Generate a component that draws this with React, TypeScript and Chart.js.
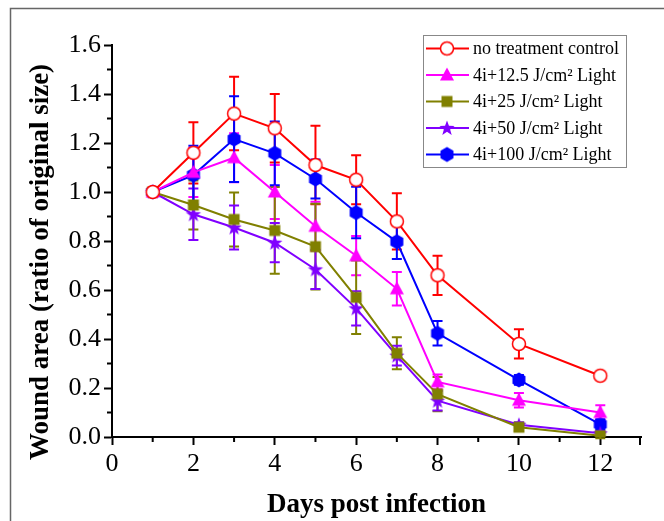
import React, { useEffect, useRef } from "react";
import { Chart, registerables } from "chart.js";

Chart.register(...registerables);

const days = [1, 2, 3, 4, 5, 6, 7, 8, 10, 12];
const control = [1.0, 1.16, 1.32, 1.26, 1.11, 1.05, 0.88, 0.66, 0.38, 0.25];
const controlErr = [0, 0.125, 0.15, 0.14, 0.16, 0.1, 0.115, 0.08, 0.06, 0.01];
const light12 = [1.0, 1.08, 1.14, 1.0, 0.86, 0.74, 0.605, 0.225, 0.15, 0.1];
const light12Err = [0, 0.1, 0.1, 0.11, 0.1, 0.08, 0.068, 0.03, 0.03, 0.03];
const light25 = [1.0, 0.947, 0.888, 0.843, 0.777, 0.57, 0.342, 0.175, 0.04, 0.005];
const light25Err = [0, 0.1, 0.11, 0.177, 0.175, 0.15, 0.065, 0.07, 0.015, 0.01];
const light50 = [1.0, 0.909, 0.855, 0.793, 0.684, 0.525, 0.332, 0.148, 0.05, 0.015];
const light50Err = [0, 0.105, 0.09, 0.08, 0.08, 0.07, 0.04, 0.04, 0.01, 0.01];
const light100 = [1.0, 1.069, 1.216, 1.158, 1.053, 0.916, 0.797, 0.423, 0.233, 0.052];
const light100Err = [0, 0.12, 0.175, 0.13, 0.08, 0.105, 0.07, 0.05, 0.02, 0.02];

const seriesLabels = [
  "no treatment control",
  "4i+12.5 J/cm² Light",
  "4i+25 J/cm² Light",
  "4i+50 J/cm² Light",
  "4i+100 J/cm² Light",
];
const xTickLabels = ["0", "2", "4", "6", "8", "10", "12"];
const yTickLabels = ["0.0", "0.2", "0.4", "0.6", "0.8", "1.0", "1.2", "1.4", "1.6"];
const xTitle = "Days post infection";
const yTitle = "Wound area (ratio of original size)";

const SERIF = '"Liberation Serif", "Times New Roman", serif';

function makeMarker(kind: string, color: string): HTMLCanvasElement {
  const c = document.createElement("canvas");
  c.width = 18;
  c.height = 18;
  const ctx = c.getContext("2d")!;
  const cx = 9, cy = 9;
  ctx.fillStyle = color;
  ctx.strokeStyle = color;
  ctx.beginPath();
  if (kind === "circle") {
    ctx.arc(cx, cy, 6.5, 0, Math.PI * 2);
    ctx.fillStyle = "#ffffff";
    ctx.fill();
    ctx.lineWidth = 1.5;
    ctx.stroke();
    return c;
  } else if (kind === "triangle") {
    ctx.moveTo(cx, cy - 7.5);
    ctx.lineTo(cx + 7, cy + 5.5);
    ctx.lineTo(cx - 7, cy + 5.5);
    ctx.closePath();
  } else if (kind === "square") {
    ctx.rect(cx - 5.5, cy - 5.5, 11, 11);
  } else if (kind === "star") {
    for (let i = 0; i < 10; i++) {
      const r = i % 2 === 0 ? 8 : 3.3;
      const a = -Math.PI / 2 + (i * Math.PI) / 5;
      const px = cx + r * Math.cos(a);
      const py = cy + 0.5 + r * Math.sin(a);
      if (i === 0) ctx.moveTo(px, py);
      else ctx.lineTo(px, py);
    }
    ctx.closePath();
  } else if (kind === "hexagon") {
    for (let i = 0; i < 6; i++) {
      const a = -Math.PI / 2 + (i * Math.PI) / 3;
      const px = cx + 7.5 * Math.cos(a);
      const py = cy + 7.5 * Math.sin(a);
      if (i === 0) ctx.moveTo(px, py);
      else ctx.lineTo(px, py);
    }
    ctx.closePath();
  }
  ctx.fill();
  return c;
}

export default function App() {
  const ref = useRef<HTMLCanvasElement | null>(null);

  useEffect(() => {
    const canvas = ref.current;
    if (!canvas) return;

    const seriesValues = [control, light12, light25, light50, light100];
    const seriesErrs = [controlErr, light12Err, light25Err, light50Err, light100Err];
    const colors = ["#ff0000", "#ff00ff", "#808000", "#8000ff", "#0000ff"];
    const kinds = ["circle", "triangle", "square", "star", "hexagon"];
    const markers = kinds.map((k, i) => makeMarker(k, colors[i]));

    const datasets = seriesValues.map((vals, i) => ({
      label: seriesLabels[i],
      data: days.map((d, j) => ({ x: d, y: vals[j] })),
      borderColor: colors[i],
      backgroundColor: colors[i],
      borderWidth: 2,
      pointStyle: markers[i] as any,
      pointRadius: 7,
      tension: 0,
      errors: seriesErrs[i],
    }));

    const bgPlugin = {
      id: "bg",
      beforeDraw(chart: any) {
        const ctx = chart.ctx;
        ctx.save();
        ctx.fillStyle = "#ffffff";
        ctx.fillRect(0, 0, chart.width, chart.height);
        ctx.strokeStyle = "#666666";
        ctx.lineWidth = 1.5;
        ctx.beginPath();
        ctx.moveTo(10.5, chart.height);
        ctx.lineTo(10.5, 8.5);
        ctx.lineTo(chart.width, 8.5);
        ctx.stroke();
        ctx.restore();
      },
    };

    const errorPlugin = {
      id: "errbars",
      beforeDatasetsDraw(chart: any) {
        const ctx = chart.ctx;
        const yScale = chart.scales.y;
        ctx.save();
        chart.data.datasets.forEach((ds: any, i: number) => {
          const meta = chart.getDatasetMeta(i);
          ctx.strokeStyle = ds.borderColor;
          ctx.lineWidth = 2;
          meta.data.forEach((pt: any, j: number) => {
            const e = ds.errors[j];
            if (!e) return;
            const v = ds.data[j].y;
            const yt = yScale.getPixelForValue(v + e);
            const yb = yScale.getPixelForValue(v - e);
            const x = pt.x;
            ctx.beginPath();
            ctx.moveTo(x, yt);
            ctx.lineTo(x, yb);
            ctx.moveTo(x - 5, yt);
            ctx.lineTo(x + 5, yt);
            ctx.moveTo(x - 5, yb);
            ctx.lineTo(x + 5, yb);
            ctx.stroke();
          });
        });
        ctx.restore();
      },
    };

    const axisExtrasPlugin = {
      id: "axisExtras",
      afterDraw(chart: any) {
        const ctx = chart.ctx;
        const xs = chart.scales.x;
        const ys = chart.scales.y;
        const bottom = chart.chartArea.bottom;
        const left = chart.chartArea.left;
        ctx.save();
        ctx.strokeStyle = "#000000";
        ctx.lineWidth = 2;
        ctx.beginPath();
        for (let d = 1; d <= 11; d += 2) {
          const x = xs.getPixelForValue(d);
          ctx.moveTo(x, bottom);
          ctx.lineTo(x, bottom + 5);
        }
        const xEnd = xs.getPixelForValue(13) - 1;
        ctx.moveTo(xEnd, bottom);
        ctx.lineTo(xEnd, bottom + 8);
        for (let k = 1; k <= 15; k += 2) {
          const y = ys.getPixelForValue(k / 10);
          ctx.moveTo(left, y);
          ctx.lineTo(left - 5, y);
        }
        ctx.stroke();
        // y axis title
        ctx.fillStyle = "#000000";
        ctx.font = `bold 27px ${SERIF}`;
        ctx.textAlign = "center";
        ctx.textBaseline = "middle";
        ctx.translate(41, 262);
        ctx.rotate(-Math.PI / 2);
        ctx.fillText(yTitle, 0, 0);
        ctx.restore();
      },
    };

    const legendPlugin = {
      id: "customLegend",
      afterDraw(chart: any) {
        const ctx = chart.ctx;
        ctx.save();
        ctx.strokeStyle = "#888888";
        ctx.lineWidth = 1;
        ctx.strokeRect(423.5, 35.5, 203, 132);
        chart.data.datasets.forEach((ds: any, i: number) => {
          const y = 48.5 + i * 26.5;
          ctx.strokeStyle = ds.borderColor;
          ctx.lineWidth = 2;
          ctx.beginPath();
          ctx.moveTo(426, y);
          ctx.lineTo(469, y);
          ctx.stroke();
          ctx.drawImage(markers[i], 447 - 9, y - 9);
          ctx.fillStyle = "#000000";
          ctx.font = `18px ${SERIF}`;
          ctx.textBaseline = "middle";
          ctx.textAlign = "left";
          ctx.fillText(ds.label, 473, y + 1);
        });
        ctx.restore();
      },
    };

    const chart = new Chart(canvas, {
      type: "line",
      data: { datasets: datasets as any },
      plugins: [bgPlugin, errorPlugin, axisExtrasPlugin, legendPlugin],
      options: {
        animation: false,
        responsive: false,
        devicePixelRatio: 1,
        layout: { padding: { left: 25, top: 45, right: 23, bottom: 0 } },
        plugins: {
          legend: { display: false },
          tooltip: { enabled: false },
        },
        scales: {
          x: {
            type: "linear",
            min: 0,
            max: 13,
            ticks: {
              stepSize: 2,
              includeBounds: false,
              autoSkip: false,
              maxRotation: 0,
              color: "#000000",
              padding: 4,
              font: { family: SERIF, size: 26 },
              callback: (v: any) => {
                const s = String(v);
                return xTickLabels.includes(s) ? s : "";
              },
            },
            grid: {
              display: true,
              drawOnChartArea: false,
              drawTicks: true,
              tickLength: 8,
              tickWidth: 2,
              tickColor: "#000000",
            },
            border: { display: true, color: "#000000", width: 2 },
            title: {
              display: true,
              text: xTitle,
              color: "#000000",
              font: { family: SERIF, size: 27, weight: "bold" },
              padding: { top: 0, bottom: 0 },
            },
            afterFit: (scale: any) => {
              scale.height = 84;
            },
          },
          y: {
            type: "linear",
            min: 0,
            max: 1.6,
            ticks: {
              stepSize: 0.2,
              color: "#000000",
              padding: 3,
              font: { family: SERIF, size: 26 },
              callback: (v: any) => {
                const s = Number(v).toFixed(1);
                return yTickLabels.includes(s) ? s : "";
              },
            },
            grid: {
              display: true,
              drawOnChartArea: false,
              drawTicks: true,
              tickLength: 8,
              tickWidth: 2,
              tickColor: "#000000",
            },
            border: { display: true, color: "#000000", width: 2 },
            title: { display: false },
            afterFit: (scale: any) => {
              scale.width = 87;
            },
          },
        },
      } as any,
    });

    return () => chart.destroy();
  }, []);

  return (
    <div style={{ position: "absolute", left: 0, top: 0, width: 664, height: 521 }}>
      <canvas ref={ref} width={664} height={521} style={{ width: 664, height: 521, display: "block" }} />
    </div>
  );
}
